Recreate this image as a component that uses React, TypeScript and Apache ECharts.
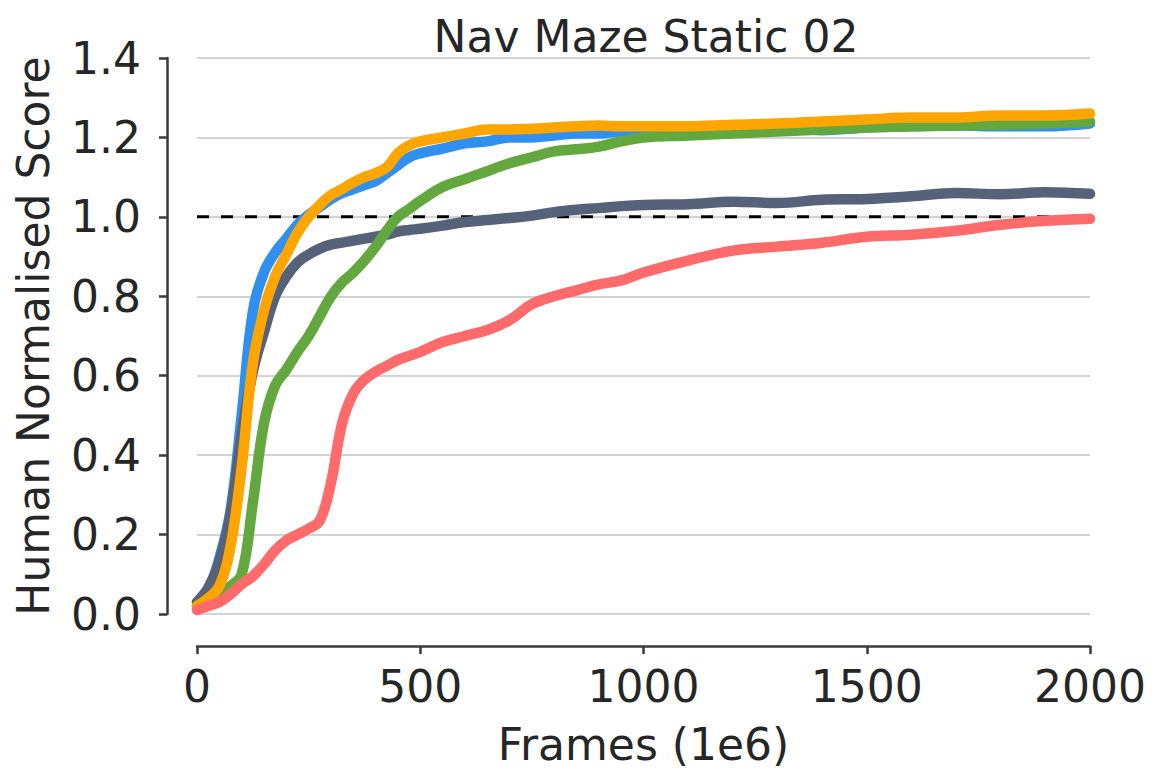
import React, { useEffect, useRef } from "react";
import * as echarts from "echarts";

const frames = [0, 25, 50, 75, 100, 125, 150, 175, 200, 225, 250, 275, 300, 325, 350, 375, 400, 425, 450, 475, 500, 550, 600, 650, 700, 750, 800, 850, 900, 950, 1000, 1100, 1200, 1300, 1400, 1500, 1600, 1700, 1800, 1900, 2000];

const blueScores = [0.03, 0.06, 0.14, 0.26, 0.5, 0.76, 0.86, 0.91, 0.945, 0.98, 1.005, 1.025, 1.045, 1.06, 1.07, 1.08, 1.09, 1.11, 1.13, 1.15, 1.16, 1.172, 1.185, 1.19, 1.2, 1.2, 1.205, 1.21, 1.21, 1.215, 1.215, 1.215, 1.22, 1.225, 1.218, 1.225, 1.228, 1.23, 1.228, 1.228, 1.235];

const slateScores = [0.03, 0.065, 0.13, 0.25, 0.45, 0.61, 0.71, 0.8, 0.85, 0.885, 0.905, 0.92, 0.93, 0.935, 0.94, 0.945, 0.95, 0.955, 0.963, 0.967, 0.97, 0.978, 0.987, 0.992, 0.997, 1.003, 1.012, 1.018, 1.022, 1.027, 1.03, 1.032, 1.038, 1.035, 1.043, 1.045, 1.052, 1.06, 1.057, 1.062, 1.058];

const greenScores = [0.02, 0.035, 0.05, 0.07, 0.1, 0.28, 0.48, 0.575, 0.615, 0.66, 0.7, 0.75, 0.8, 0.835, 0.86, 0.89, 0.925, 0.965, 1.0, 1.02, 1.04, 1.075, 1.095, 1.115, 1.135, 1.15, 1.165, 1.17, 1.177, 1.19, 1.2, 1.205, 1.21, 1.215, 1.22, 1.225, 1.228, 1.23, 1.232, 1.235, 1.24];

const orangeScores = [0.02, 0.04, 0.07, 0.17, 0.37, 0.63, 0.765, 0.85, 0.905, 0.96, 1.0, 1.03, 1.055, 1.07, 1.087, 1.1, 1.11, 1.125, 1.16, 1.18, 1.19, 1.2, 1.21, 1.22, 1.22, 1.222, 1.225, 1.228, 1.23, 1.228, 1.228, 1.228, 1.232, 1.235, 1.24, 1.245, 1.25, 1.25, 1.255, 1.255, 1.26];

const redScores = [0.01, 0.02, 0.03, 0.05, 0.075, 0.095, 0.125, 0.16, 0.185, 0.2, 0.215, 0.235, 0.33, 0.48, 0.555, 0.59, 0.61, 0.625, 0.64, 0.65, 0.66, 0.685, 0.7, 0.715, 0.74, 0.78, 0.8, 0.815, 0.83, 0.84, 0.86, 0.89, 0.915, 0.925, 0.935, 0.95, 0.955, 0.965, 0.98, 0.99, 0.995];

const humanLevel = 1.0;
const xTicks = [0, 500, 1000, 1500, 2000];
const yTicks = [0, 0.2, 0.4, 0.6, 0.8, 1.0, 1.2, 1.4];

const FONT = "DejaVu Sans";
const TEXT = "#262626";
const SPINE = "#3a3a3a";

function pairs(ys: number[]) {
  return frames.map((f, i) => [f, ys[i]]);
}

export default function App() {
  const ref = useRef<HTMLDivElement>(null);
  useEffect(() => {
    if (!ref.current) return;
    const chart = echarts.init(ref.current, undefined, { renderer: "svg" });
    const lineSeries = (name: string, ys: number[], color: string, z: number) => ({
      name,
      type: "line",
      data: pairs(ys),
      showSymbol: false,
      symbol: "none",
      smooth: 0.4,
      z,
      lineStyle: { color, width: 10.5, cap: "round", join: "round" },
    });
    chart.setOption({
      animation: false,
      backgroundColor: "#ffffff",
      title: {
        text: "Nav Maze Static 02",
        left: 641,
        textAlign: "center",
        top: 9,
        textStyle: { fontFamily: FONT, fontSize: 44, fontWeight: "normal", color: TEXT },
      },
      grid: { left: 197, right: 75, top: 58, bottom: 169, containLabel: false },
      xAxis: {
        type: "value",
        min: xTicks[0],
        max: xTicks[xTicks.length - 1],
        interval: 500,
        offset: 32,
        name: "Frames (1e6)",
        nameLocation: "middle",
        nameGap: 76,
        nameTextStyle: { fontFamily: FONT, fontSize: 44, color: TEXT },
        axisLine: { show: true, onZero: false, lineStyle: { color: SPINE, width: 2.5 } },
        axisTick: { show: true, length: 8, lineStyle: { color: SPINE, width: 2.5 } },
        axisLabel: {
          fontFamily: FONT,
          fontSize: 44,
          color: TEXT,
          margin: 18,
          formatter: (v: number) => String(v),
        },
        splitLine: { show: false },
      },
      yAxis: {
        type: "value",
        min: yTicks[0],
        max: yTicks[yTicks.length - 1],
        interval: 0.2,
        offset: 30,
        name: "Human Normalised Score",
        nameLocation: "middle",
        nameGap: 112,
        nameTextStyle: { fontFamily: FONT, fontSize: 44, color: TEXT },
        axisLine: { show: true, onZero: false, lineStyle: { color: SPINE, width: 2.5 } },
        axisTick: { show: true, length: 8, lineStyle: { color: SPINE, width: 2.5 } },
        axisLabel: {
          fontFamily: FONT,
          fontSize: 44,
          color: TEXT,
          margin: 26,
          formatter: (v: number) => v.toFixed(1),
        },
        splitLine: { show: true, lineStyle: { color: "#d3d3d3", width: 2 } },
      },
      series: [
        {
          name: "human",
          type: "line",
          data: [[xTicks[0], humanLevel], [xTicks[xTicks.length - 1], humanLevel]],
          showSymbol: false,
          symbol: "none",
          z: 1,
          lineStyle: { color: "#000000", width: 3, type: [12, 12] },
        },
        lineSeries("blue", blueScores, "#3090f0", 2),
        lineSeries("slate", slateScores, "#56617a", 3),
        lineSeries("green", greenScores, "#62a83f", 4),
        lineSeries("orange", orangeScores, "#ffa500", 5),
        lineSeries("red", redScores, "#ff6b6b", 6),
      ],
    });
    return () => chart.dispose();
  }, []);
  return (
    <div
      ref={ref}
      style={{ position: "fixed", left: 0, top: 0, width: 1165, height: 783, background: "#fff" }}
    />
  );
}
